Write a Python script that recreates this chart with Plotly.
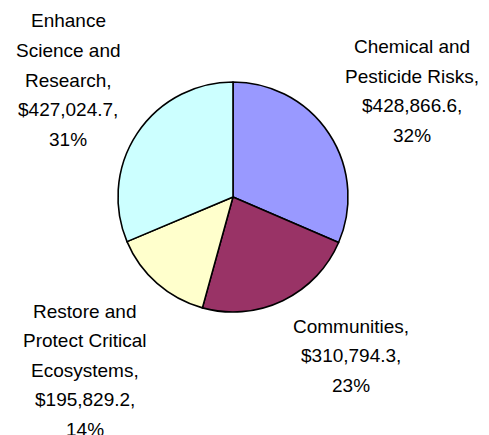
import math
import plotly.graph_objects as go

# Budget by goal (thousands of dollars), clockwise from 12 o'clock
categories = [
    "Chemical and\nPesticide Risks",
    "Communities",
    "Restore and\nProtect Critical\nEcosystems",
    "Enhance\nScience and\nResearch",
]
values = [428866.6, 310794.3, 195829.2, 427024.7]
colors = ["#9999FF", "#993366", "#FFFFCC", "#CCFFFF"]

W, H = 489, 435
# pie centre and radius in pixels
CX, CY, R = 233, 197, 115

# label block: centre x of text and centre y of its first line, in pixels
label_anchor = [(412, 47), (351, 326), (85, 311), (68, 21)]
LINE_STEP = 29.5
FONT = dict(family="Liberation Sans, Arial, sans-serif", size=19, color="black")


def whole_percents(vals):
    """Round shares to whole percents that add up to 100 (largest remainder)."""
    total = sum(vals)
    raw = [v / total * 100 for v in vals]
    out = [math.floor(r) for r in raw]
    order = sorted(range(len(raw)), key=lambda i: raw[i] - out[i], reverse=True)
    for i in order[: 100 - sum(out)]:
        out[i] += 1
    return out


fig = go.Figure(
    go.Pie(
        labels=[c.replace("\n", " ") for c in categories],
        values=values,
        sort=False,
        direction="clockwise",
        rotation=0,
        marker=dict(colors=colors, line=dict(color="black", width=1.6)),
        textinfo="none",
        hoverinfo="label+value+percent",
        domain=dict(
            x=[(CX - R) / W, (CX + R) / W],
            y=[(H - CY - R) / H, (H - CY + R) / H],
        ),
        showlegend=False,
    )
)

annotations = []
for name, val, pct, (ax, ay) in zip(categories, values, whole_percents(values), label_anchor):
    lines = name.split("\n")
    lines[-1] += ","
    lines.append(f"${val:,.1f},")
    lines.append(f"{pct}%")
    for i, line in enumerate(lines):
        annotations.append(
            dict(
                text=line,
                x=ax / W,
                y=1 - (ay + i * LINE_STEP) / H,
                xref="paper",
                yref="paper",
                xanchor="center",
                yanchor="middle",
                showarrow=False,
                font=FONT,
            )
        )

fig.update_layout(
    width=W,
    height=H,
    margin=dict(l=0, r=0, t=0, b=0),
    paper_bgcolor="white",
    plot_bgcolor="white",
    annotations=annotations,
)

fig.write_html("out.html")
